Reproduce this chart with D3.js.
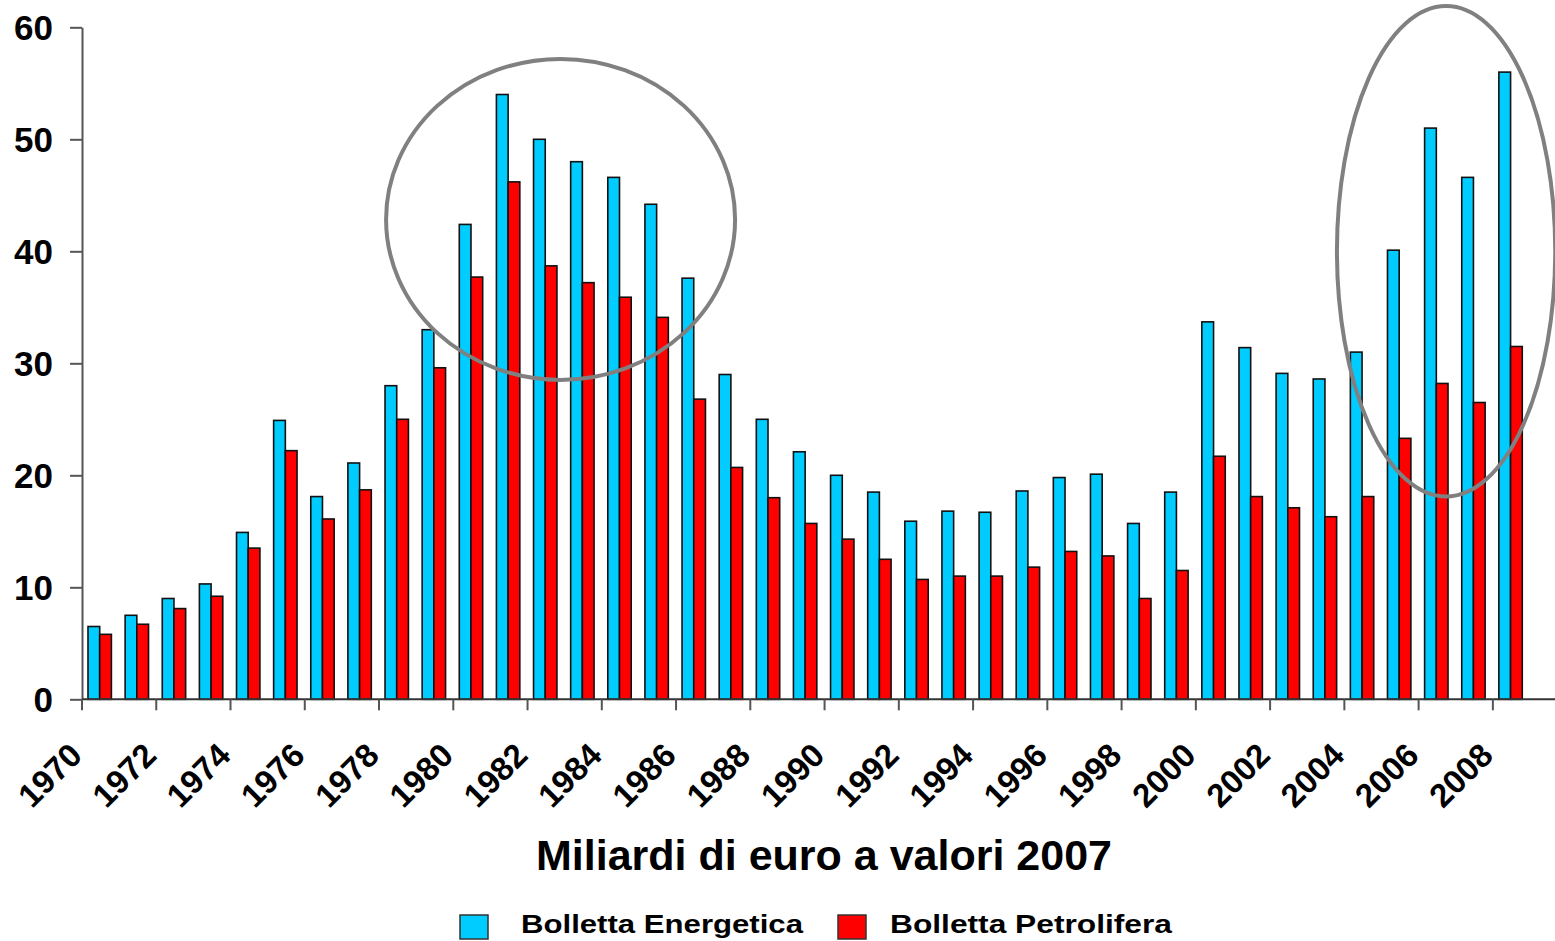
<!DOCTYPE html>
<html>
<head>
<meta charset="utf-8">
<script src="https://cdnjs.cloudflare.com/ajax/libs/d3/7.8.5/d3.min.js"></script>
<style>
  body { margin: 0; background: #fff; }
  svg text { font-family: "Liberation Sans", Arial, sans-serif; font-weight: bold; fill: #000; }
</style>
</head>
<body>
<script>
// years 1970..2008
const years = d3.range(1970, 2009);

// billions of euro, 2007 values
const energetica = [6.5, 7.5, 9.0, 10.3, 14.9, 24.9, 18.1, 21.1, 28.0, 33.0,
    42.4, 54.0, 50.0, 48.0, 46.6, 44.2, 37.6, 29.0, 25.0, 22.1,
    20.0, 18.5, 15.9, 16.8, 16.7, 18.6, 19.8, 20.1, 15.7, 18.5,
    33.7, 31.4, 29.1, 28.6, 31.0, 40.1, 51.0, 46.6, 56.0];
const petrolifera = [5.8, 6.7, 8.1, 9.2, 13.5, 22.2, 16.1, 18.7, 25.0, 29.6,
    37.7, 46.2, 38.7, 37.2, 35.9, 34.1, 26.8, 20.7, 18.0, 15.7,
    14.3, 12.5, 10.7, 11.0, 11.0, 11.8, 13.2, 12.8, 9.0, 11.5,
    21.7, 18.1, 17.1, 16.3, 18.1, 23.3, 28.2, 26.5, 31.5];

const seriesNames = ["Bolletta Energetica", "Bolletta Petrolifera"];
const seriesColors = ["#00CCFF", "#FF0000"];
const yTicks = [0, 10, 20, 30, 40, 50, 60];
const xTickYears = years.filter(y => y % 2 === 0);
const axisTitle = "Miliardi di euro a valori 2007";

// highlight ellipses: centre (year position, value), radii (years, value units)
const highlightCx = [1982.89, 2006.74];
const highlightCy = [42.85, 40.0];
const highlightRx = [4.70, 2.94];
const highlightRy = [14.33, 21.9];

const W = 1555, H = 941;
const plotLeft = 82, plotRight = 1530, plotTop = 27.3, plotBottom = 699.3;

const svg = d3.select("body").append("svg")
    .attr("width", W)
    .attr("height", H);

const x = d3.scaleBand()
    .domain(years)
    .range([plotLeft, plotRight])
    .padding(0);
const xPos = d3.scaleLinear()
    .domain([1970, 2009])
    .range([plotLeft, plotRight]);
const xSub = d3.scaleBand()
    .domain(seriesNames)
    .range([6, 29.4]);
const y = d3.scaleLinear()
    .domain([0, 60])
    .range([plotBottom, plotTop]);

const rows = years.map((yr, i) => ({ year: yr, values: [energetica[i], petrolifera[i]] }));

// bars
const groups = svg.selectAll(".yr")
    .data(rows)
    .enter().append("g")
    .attr("class", "yr")
    .attr("transform", d => "translate(" + x(d.year) + ",0)");

groups.selectAll("rect")
    .data(d => d.values.map((v, k) => ({ name: seriesNames[k], color: seriesColors[k], value: v })))
    .enter().append("rect")
    .attr("x", d => xSub(d.name))
    .attr("width", xSub.bandwidth())
    .attr("y", d => y(d.value))
    .attr("height", d => y(0) - y(d.value))
    .attr("fill", d => d.color)
    .attr("stroke", "#111")
    .attr("stroke-width", 1.6);

// y axis
const yAxis = svg.append("g")
    .attr("transform", "translate(" + plotLeft + ",0)")
    .call(d3.axisLeft(y).tickValues(yTicks).tickSize(12).tickSizeOuter(0).tickPadding(17));
yAxis.select(".domain").attr("stroke", "#555").attr("stroke-width", 2);
yAxis.selectAll(".tick line").attr("stroke", "#555").attr("stroke-width", 2);
yAxis.selectAll(".tick text")
    .style("font-size", "35px")
    .attr("dy", "0.36em");

// x axis
const xAxis = svg.append("g")
    .attr("transform", "translate(0," + plotBottom + ")");
xAxis.append("line")
    .attr("x1", plotLeft).attr("x2", W)
    .attr("stroke", "#333").attr("stroke-width", 2);
const xt = xAxis.selectAll(".xtick")
    .data(xTickYears)
    .enter().append("g")
    .attr("class", "xtick")
    .attr("transform", d => "translate(" + x(d) + ",0)");
xt.append("line")
    .attr("y2", 11)
    .attr("stroke", "#555").attr("stroke-width", 2);
xt.append("text")
    .attr("transform", "translate(2,58) rotate(-45)")
    .attr("text-anchor", "end")
    .style("font-size", "33px")
    .text(d => d);

// axis title
svg.append("text")
    .attr("x", 824)
    .attr("y", 870)
    .attr("text-anchor", "middle")
    .style("font-size", "43px")
    .text(axisTitle);

// highlight ellipses
svg.selectAll(".hl")
    .data(highlightCx)
    .enter().append("ellipse")
    .attr("class", "hl")
    .attr("cx", d => xPos(d))
    .attr("cy", (d, i) => y(highlightCy[i]))
    .attr("rx", (d, i) => xPos(1970 + highlightRx[i]) - xPos(1970))
    .attr("ry", (d, i) => y(0) - y(highlightRy[i]))
    .attr("fill", "none")
    .attr("stroke", "#808080")
    .attr("stroke-width", 4);

// legend
const legendX = [460, 838];
const legend = svg.selectAll(".lg")
    .data(seriesNames)
    .enter().append("g")
    .attr("class", "lg")
    .attr("transform", (d, i) => "translate(" + legendX[i] + ",915)");
legend.append("rect")
    .attr("width", 28)
    .attr("height", 24)
    .attr("fill", (d, i) => seriesColors[i])
    .attr("stroke", "#333")
    .attr("stroke-width", 1.5);
legend.append("text")
    .attr("x", (d, i) => i === 0 ? 61 : 52)
    .attr("y", 18)
    .style("font-size", "25px")
    .attr("textLength", 282)
    .attr("lengthAdjust", "spacingAndGlyphs")
    .text(d => d);
</script>
</body>
</html>
